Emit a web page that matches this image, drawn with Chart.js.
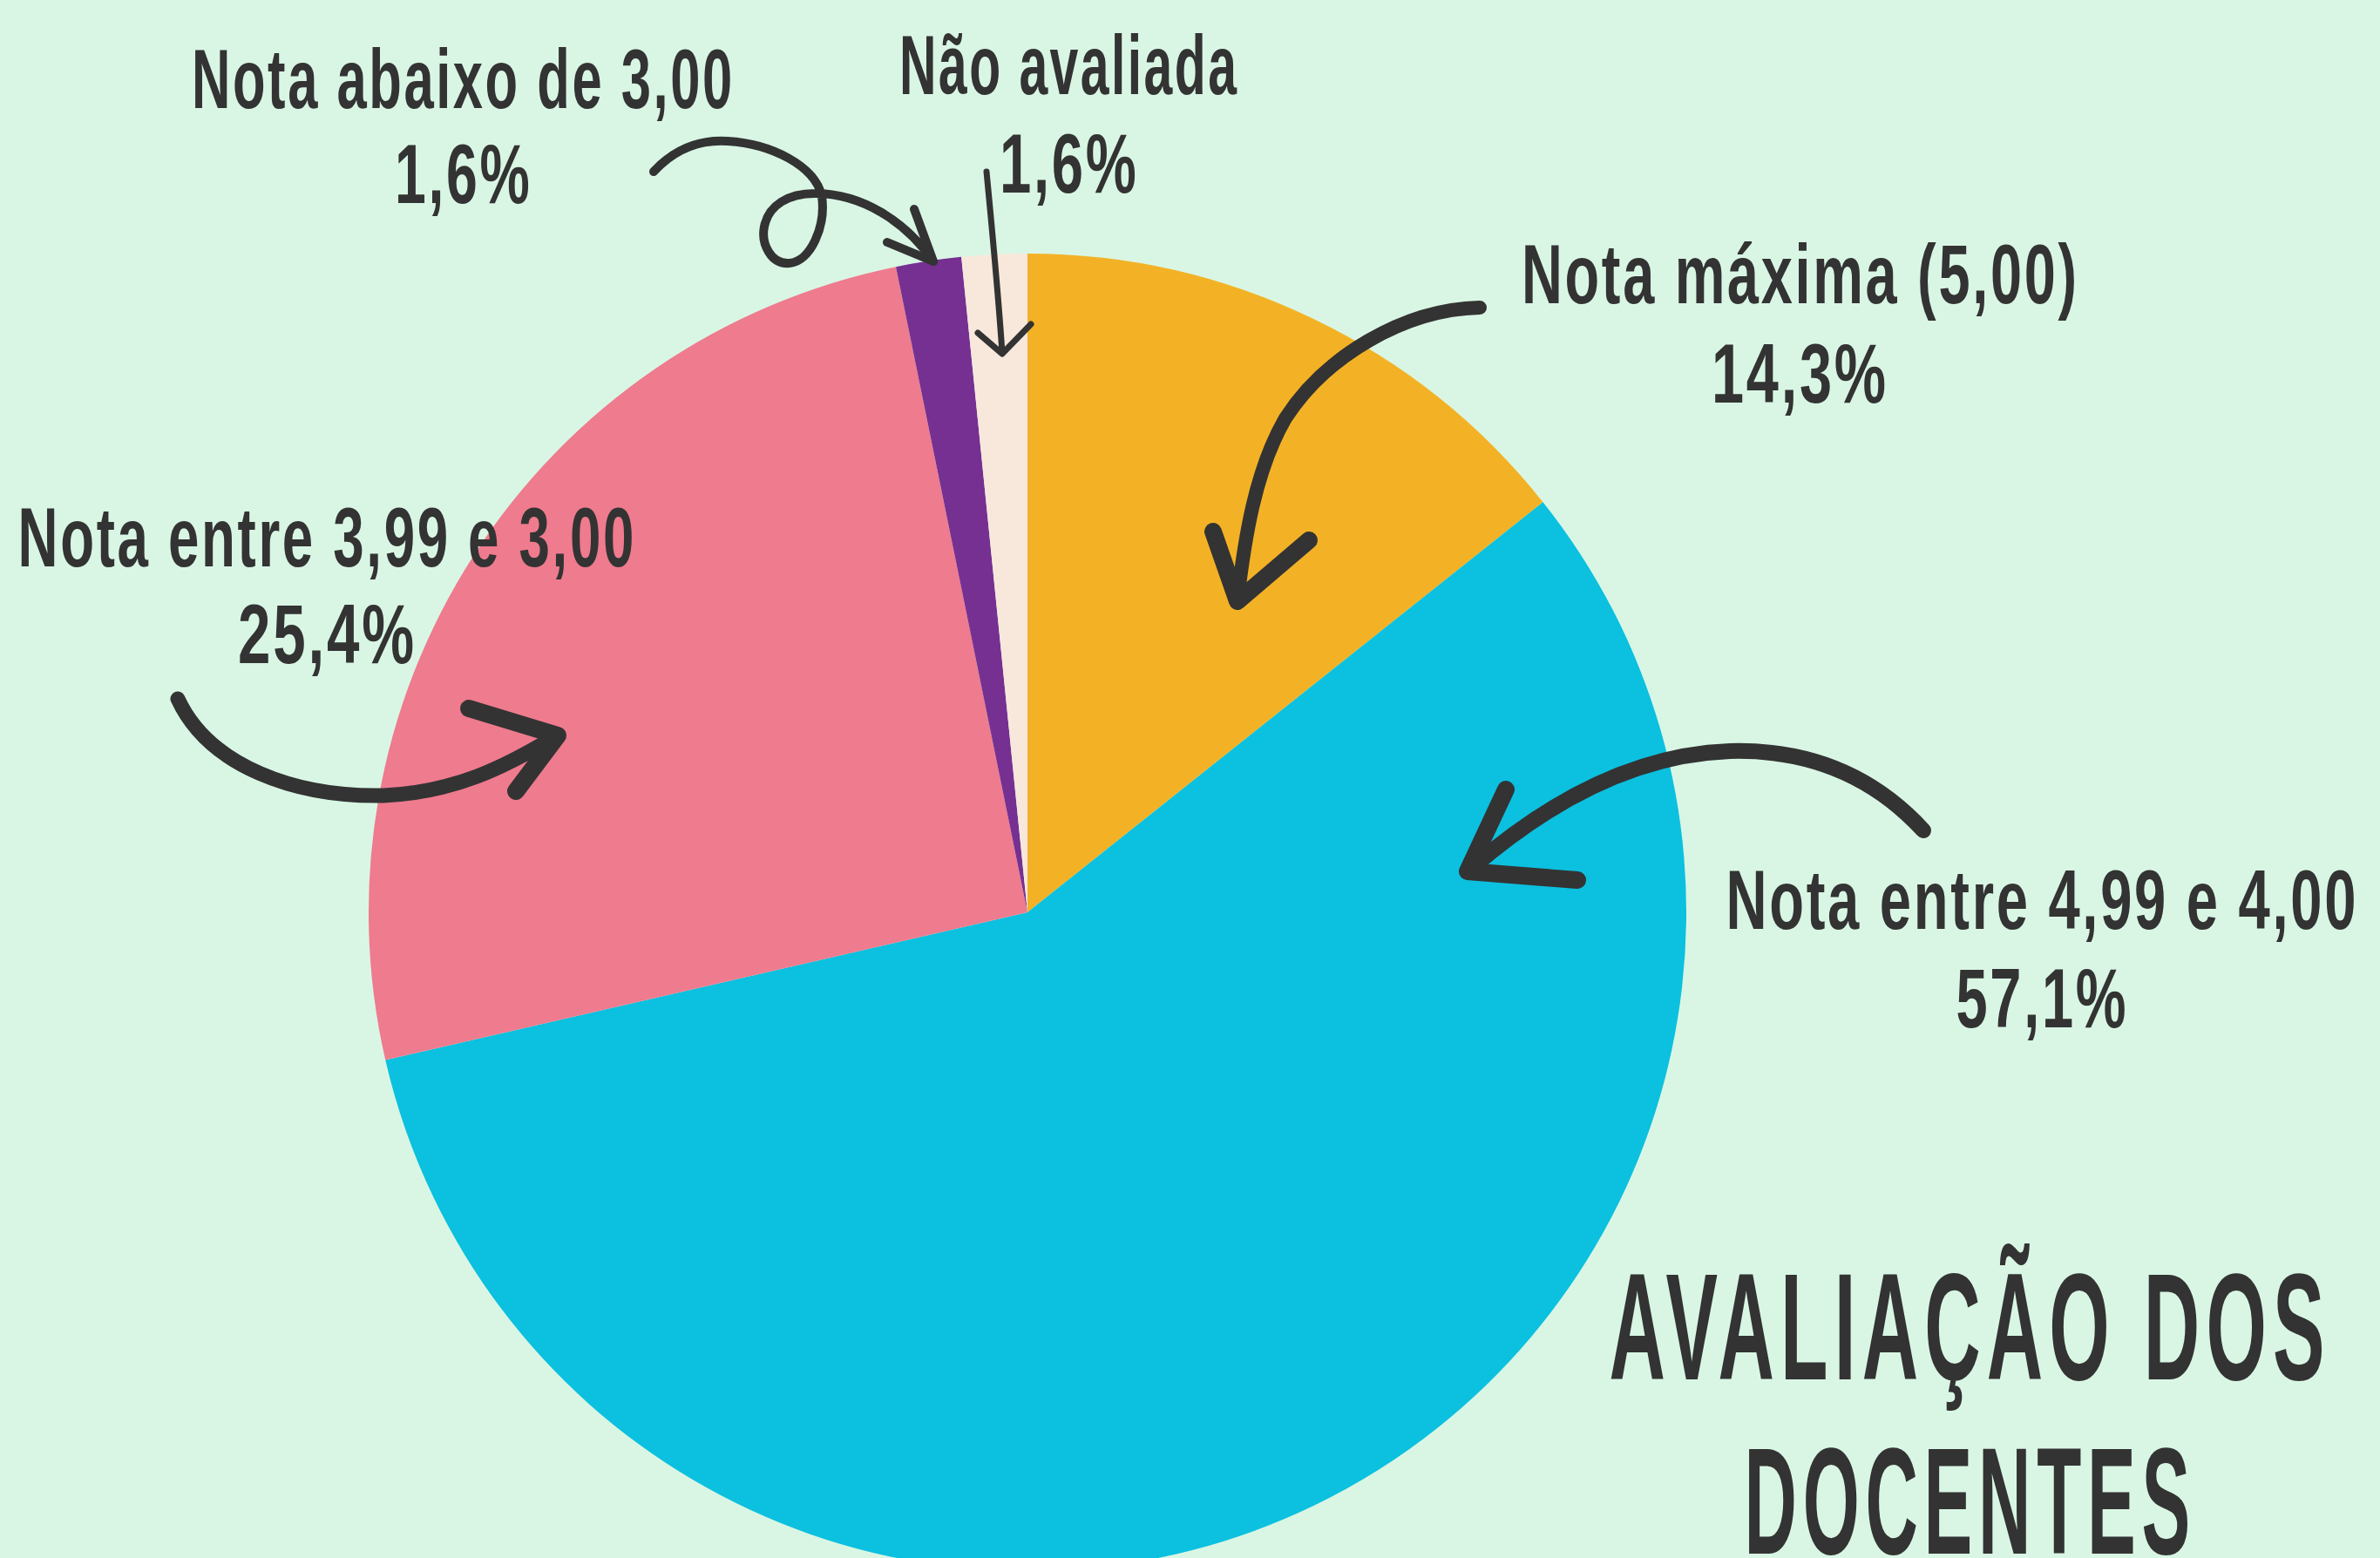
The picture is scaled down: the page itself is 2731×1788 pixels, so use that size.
<!DOCTYPE html>
<html><head><meta charset="utf-8">
<script src="https://cdn.jsdelivr.net/npm/chart.js@4.4.1/dist/chart.umd.min.js"></script>
<style>
html,body{margin:0;padding:0;width:2731px;height:1788px;overflow:hidden;background:#D9F6E4;}
#wrap{position:absolute;left:419px;top:287px;width:1520px;height:1520px;}
#arrows{position:absolute;left:0;top:0;width:2731px;height:1788px;pointer-events:none;}
.lbl{position:absolute;white-space:nowrap;font-family:"Liberation Sans Narrow","Liberation Sans",sans-serif;font-weight:bold;color:#333333;line-height:1;transform-origin:50% 0;}
</style></head><body>
<div id="wrap"><canvas id="c"></canvas></div>
<svg id="arrows" xmlns="http://www.w3.org/2000/svg" width="2731" height="1788" fill="none" stroke="#333333" stroke-linecap="round" stroke-linejoin="round">
  <!-- Nota máxima -->
  <path d="M1698 353 C1610 355 1520 410 1475 480 C1440 540 1428 620 1420 688" stroke-width="16"/>
  <path d="M1392 610 L1420 690 L1502 620" stroke-width="20"/>
  <!-- Nota entre 4,99 e 4,00 -->
  <path d="M2207 953 C2140 880 2060 860 1985 862 C1900 865 1800 900 1690 995" stroke-width="18"/>
  <path d="M1728 906 L1684 1000 L1810 1010" stroke-width="20"/>
  <!-- Nota entre 3,99 e 3,00 -->
  <path d="M204 802 C240 880 340 915 440 913 C520 910 580 880 636 846" stroke-width="17"/>
  <path d="M538 813 L640 844 L592 908" stroke-width="20"/>
  <!-- Nota abaixo de 3,00 -->
  <path d="M750 197 C775 170 805 160 835 162 C885 165 935 190 943 225 C948 260 930 300 906 302 C885 304 873 280 877 260 C882 235 905 222 935 222 C990 222 1040 255 1071 300" stroke-width="10"/>
  <path d="M1018 278 L1071 300 L1049 240" stroke-width="10"/>
  <!-- Não avaliada -->
  <path d="M1132 197 C1138 260 1145 330 1150 405" stroke-width="7"/>
  <path d="M1122 382 L1150 406 L1183 372" stroke-width="7"/>
</svg>
<div id="labels"></div>
<script>
// ---- data ----
const categories = ["Nota máxima (5,00)", "Nota entre 4,99 e 4,00", "Nota entre 3,99 e 3,00", "Nota abaixo de 3,00", "Não avaliada"];
const percentages = [14.3, 57.1, 25.4, 1.6, 1.6];
const percentLabels = ["14,3%", "57,1%", "25,4%", "1,6%", "1,6%"];
const titleLines = ["AVALIAÇÃO DOS", "DOCENTES"];

// ---- styles / layout ----
const sliceColors = ["#F3B226", "#0CC0DF", "#EF7B8E", "#763092", "#F8E8DC"];
const labelLayout = [
  {cx:2064, b1:348,  w1:637, b2:462,  w2:200},
  {cx:2342, b1:1066, w1:723, b2:1179, w2:195},
  {cx:374,  b1:650,  w1:707, b2:761,  w2:202},
  {cx:530,  b1:124,  w1:620, b2:233,  w2:155},
  {cx:1225, b1:108,  w1:387, b2:221,  w2:157}
];
const labelFont = 96;
const labelSpacing = 4;
const titleLayout = {cx:2257, font:174, spacing:14, baselines:[1583,1783], widths:[821,512]};

new Chart(document.getElementById('c'), {
  type: 'pie',
  data: {
    labels: categories,
    datasets: [{ data: percentages, backgroundColor: sliceColors, borderWidth: 0, hoverOffset: 0 }]
  },
  options: {
    responsive: true,
    maintainAspectRatio: false,
    animation: false,
    devicePixelRatio: 1,
    layout: { padding: 4 },
    plugins: { legend: { display: false }, tooltip: { enabled: false } }
  }
});

const holder = document.getElementById('labels');
const pending = [];
function addLine(text, cx, baseline, width, size, spacing) {
  const d = document.createElement('div');
  d.className = 'lbl';
  d.textContent = text;
  d.style.fontSize = size + 'px';
  d.style.letterSpacing = spacing + 'px';
  d.style.marginRight = (-spacing) + 'px';
  d.style.top = (baseline - 0.8465 * size) + 'px';
  holder.appendChild(d);
  pending.push({d, cx, width, spacing});
}
categories.forEach((c, i) => {
  const L = labelLayout[i];
  addLine(c, L.cx, L.b1, L.w1, labelFont, labelSpacing);
  addLine(percentLabels[i], L.cx, L.b2, L.w2, labelFont, labelSpacing);
});
titleLines.forEach((t, i) => addLine(t, titleLayout.cx, titleLayout.baselines[i], titleLayout.widths[i], titleLayout.font, titleLayout.spacing));

function fit() {
  pending.forEach(p => {
    const w = p.d.offsetWidth - p.spacing;
    p.d.style.left = (p.cx - w / 2) + 'px';
    p.d.style.transformOrigin = (w / 2) + 'px 0';
    p.d.style.transform = 'scaleX(' + (p.width / w) + ')';
  });
}
fit();
if (document.fonts && document.fonts.ready) document.fonts.ready.then(fit);
</script>
</body></html>
